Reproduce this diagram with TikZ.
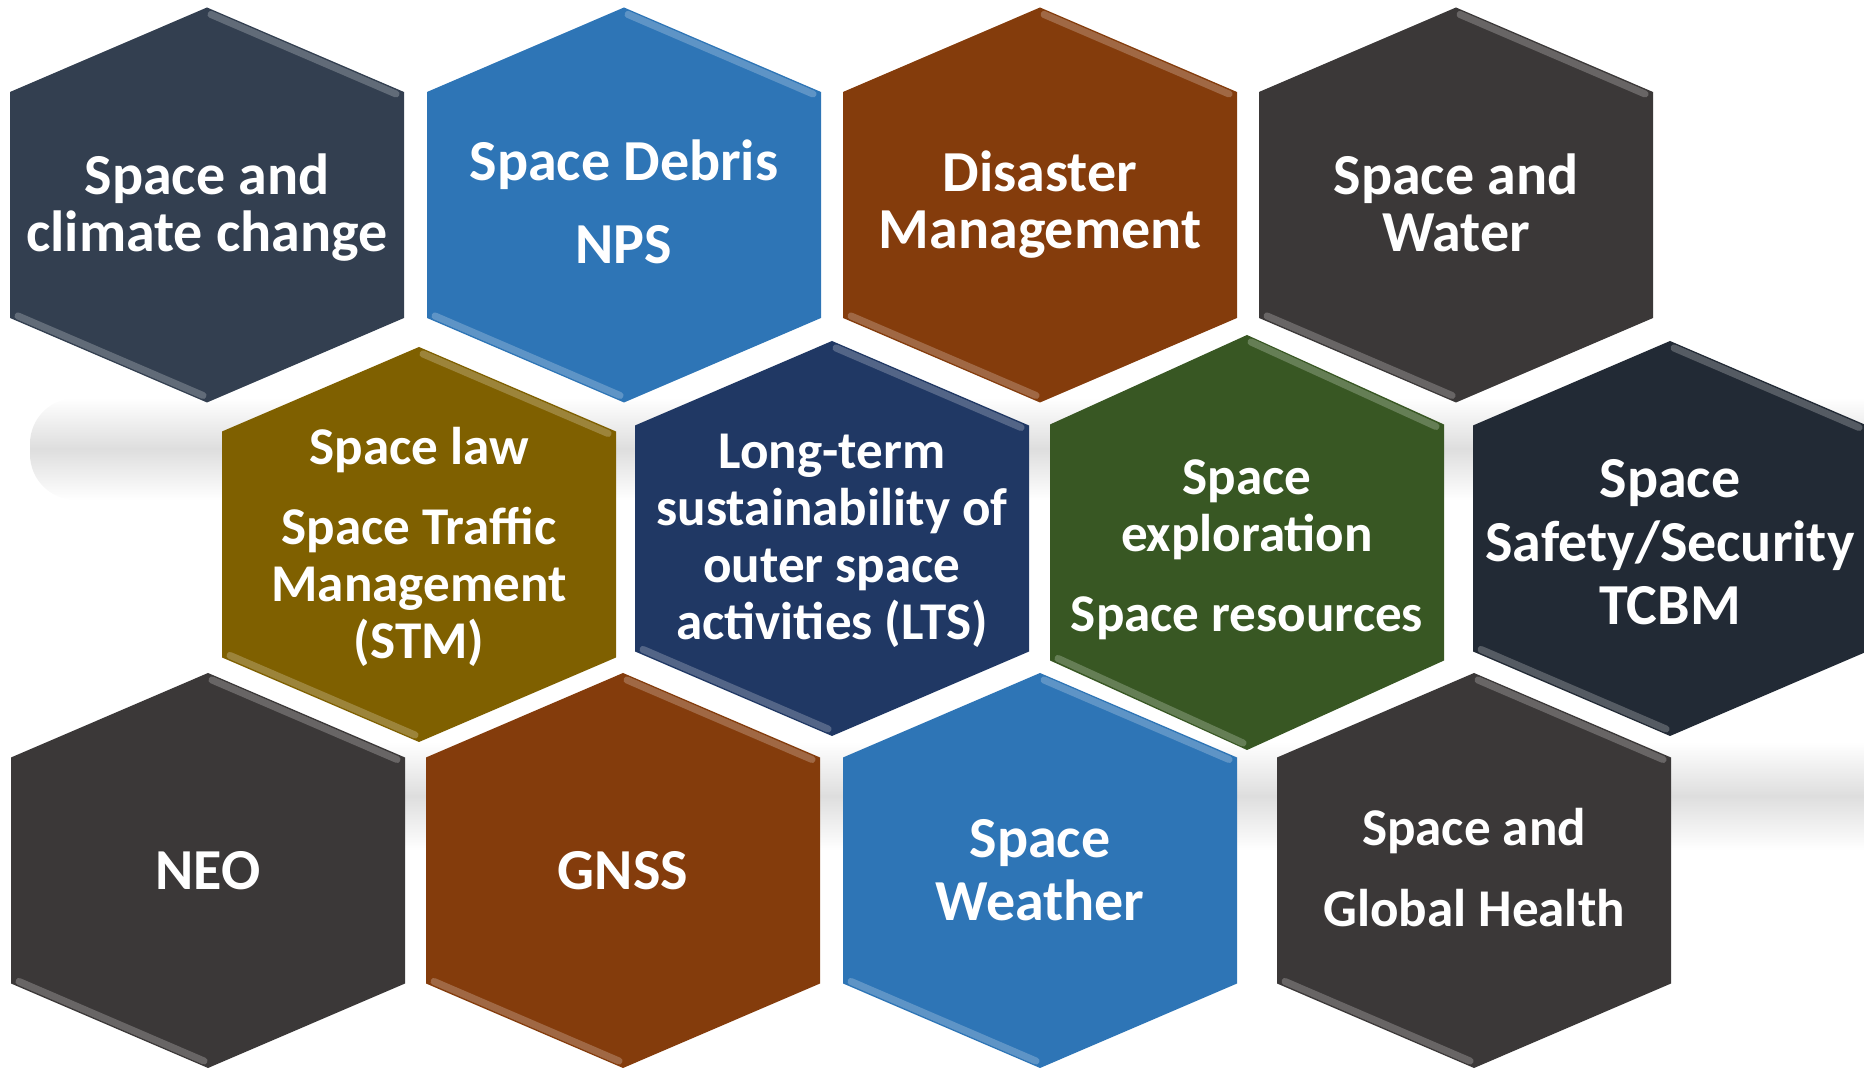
\documentclass[tikz,border=0pt]{standalone}
\usepackage{fontspec}
\setmainfont{Carlito}
\usetikzlibrary{math}
\definecolor{hexslate}{RGB}{51,63,80}
\definecolor{hexblue}{RGB}{46,117,182}
\definecolor{hexbrown}{RGB}{132,60,12}
\definecolor{hexgray}{RGB}{59,56,56}
\definecolor{hexgold}{RGB}{127,96,0}
\definecolor{hexnavy}{RGB}{32,56,100}
\definecolor{hexgreen}{RGB}{56,87,35}
\definecolor{hexnight}{RGB}{34,42,53}

\tikzset{
  bevel/.style={line width=2pt,line cap=round,opacity=0.42},
  hextext/.style={text=white,align=center,inner sep=0pt,anchor=north,font=\bfseries\fontsize{16.5}{16.2}\selectfont},
  hexsmall/.style={hextext,font=\bfseries\fontsize{15.1}{16.2}\selectfont},
}

\begin{document}
\begin{tikzpicture}[x=0.01cm,y=-0.01cm]
\tikzmath{
\hw=197;%half width
}
\useasboundingbox (0,0) rectangle (1864,1068);

%shadow bands
\shade[top color=white,bottom color=white,middle color=black!13,rounded corners=13pt] (30,398) rectangle (1900,500);
\shade[top color=white,bottom color=white,middle color=black!13] (300,742) rectangle (1900,850);

%hexagons
\foreach \n/\cx/\cy/\hh/\hs/\col in {
 1/207/205/197.5/113/hexslate, 2/624/205/197.5/113/hexblue, 3/1040/205/197.5/113/hexbrown, 4/1456/205/197.5/113/hexgray,
 5/419/544.5/197.5/113/hexgold, 6/832/538.5/197.5/113/hexnavy, 7/1247/542.5/207.5/118/hexgreen, 8/1670/538.5/197.5/113/hexnight,
 9/208/870.5/197.5/113/hexgray, 10/623/870.5/197.5/113/hexbrown, 11/1040/870.5/197.5/113/hexblue, 12/1474/870.5/197.5/113/hexgray}{
 \coordinate (h\n) at (\cx,\cy);
 \fill[\col] (\cx,\cy-\hh) -- (\cx+\hw,\cy-\hs) -- (\cx+\hw,\cy+\hs) -- (\cx,\cy+\hh)
   -- (\cx-\hw,\cy+\hs) -- (\cx-\hw,\cy-\hs) -- cycle;
 %bevel edges
 \draw[bevel,\col!45!white] (\cx+4,\cy-\hh+7) -- (\cx+\hw-8,\cy-\hs+2);
 \draw[bevel,\col!45!white] (\cx-\hw+8,\cy+\hs-2) -- (\cx-4,\cy+\hh-7);
}

%labels
\node[hextext] (climate) at (207,153) {Space and\\climate change};
\node[hextext] (debris) at (624,139) {Space Debris\\[7.4pt]NPS};
\node[hextext] (disaster) at (1040,150) {Disaster\\Management};
\node[hextext] (water) at (1456,153) {Space and\\Water};
\node[hexsmall] (law) at (419,427) {Space law\\[6.5pt]Space Traffic\\Management\\(STM)};
\node[hexsmall] (lts) at (832,433) {Long-term\\sustainability of\\outer space\\activities (LTS)};
\node[hexsmall] (explore) at (1247,459) {Space\\exploration\\[6.5pt]Space resources};
\node[hextext,font=\bfseries\fontsize{16.5}{18}\selectfont] (safety) at (1670,459) {Space\\Safety/Security\\TCBM};
\node[hextext] (neo) at (208,851) {NEO};
\node[hextext] (gnss) at (623,851) {GNSS};
\node[hextext,font=\bfseries\fontsize{16.5}{17.9}\selectfont] (weather) at (1040,819) {Space\\Weather};
\node[hexsmall] (health) at (1474,808) {Space and\\[6.8pt]Global Health};

\end{tikzpicture}
\end{document}
